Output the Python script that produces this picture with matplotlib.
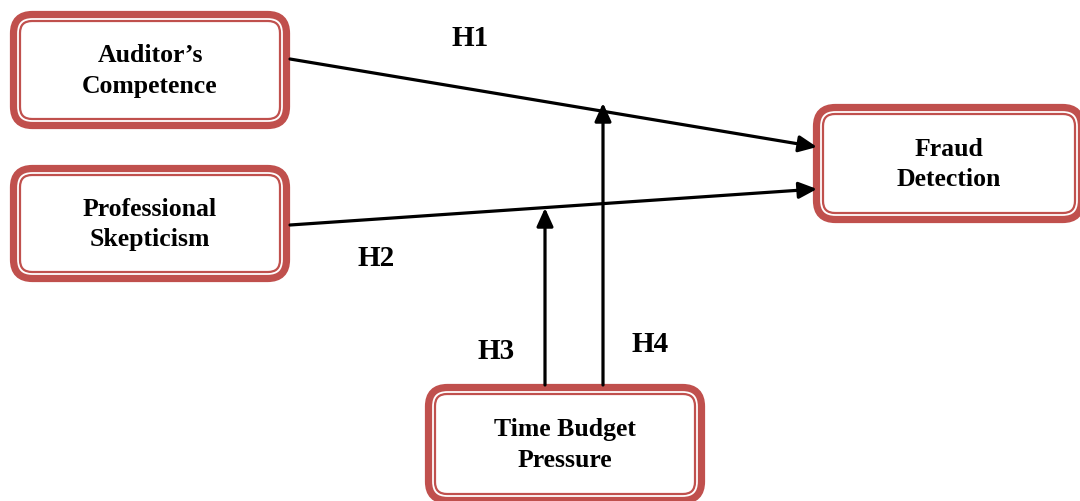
import matplotlib.pyplot as plt
from matplotlib.patches import FancyBboxPatch

# Node labels of the research model
labels = ["Auditor\u2019s\nCompetence", "Professional\nSkepticism",
          "Fraud\nDetection", "Time Budget\nPressure"]
hypotheses = ["H1", "H2", "H3", "H4"]

# Box layout in pixel coordinates (x0, y0, x1, y1)
boxes = [(10, 12, 290, 130), (10, 166, 290, 283),
         (813, 105, 1085, 224), (425, 385, 705, 505)]

RED = "#C0504D"
FONT = "Liberation Serif"


def draw_box(ax, x0, y0, x1, y1, text):
    pad = 16
    w, h = x1 - x0 - 2 * pad, y1 - y0 - 2 * pad
    outer = FancyBboxPatch((x0 + pad, y0 + pad), w, h,
                           boxstyle=f"round,pad={pad - 3.5},rounding_size=19",
                           lw=5.2, ec=RED, fc="white")
    ax.add_patch(outer)
    inner = FancyBboxPatch((x0 + pad, y0 + pad), w, h,
                           boxstyle=f"round,pad={pad - 10},rounding_size=12",
                           lw=1.6, ec=RED, fc="none")
    ax.add_patch(inner)
    ax.text((x0 + x1) / 2, (y0 + y1) / 2, text, ha="center", va="center",
            fontsize=18.5, fontweight="bold", family=FONT, linespacing=1.4)


def arrow(ax, start, end):
    ax.annotate("", xy=end, xytext=start,
                arrowprops=dict(arrowstyle="-|>,head_length=1.1,head_width=0.5",
                                lw=2.3, color="black", shrinkA=0, shrinkB=0))


def main():
    fig = plt.figure(figsize=(10.8, 5.02), dpi=100)
    ax = fig.add_axes([0, 0, 1, 1])
    ax.set_xlim(0, 1080)
    ax.set_ylim(502, 0)
    ax.axis("off")

    # Paths
    arrow(ax, (290, 60), (817, 148))
    arrow(ax, (290, 226), (817, 190))
    arrow(ax, (545, 386), (545, 209))
    arrow(ax, (603, 386), (603, 104))

    for (x0, y0, x1, y1), text in zip(boxes, labels):
        draw_box(ax, x0, y0, x1, y1, text)

    label_pos = [(470, 38), (376, 259), (496, 352), (650, 345)]
    for (x, y), h in zip(label_pos, hypotheses):
        ax.text(x, y, h, ha="center", va="center", fontsize=21,
                fontweight="bold", family=FONT)

    fig.savefig("out.png", dpi=100)


if __name__ == "__main__":
    main()
